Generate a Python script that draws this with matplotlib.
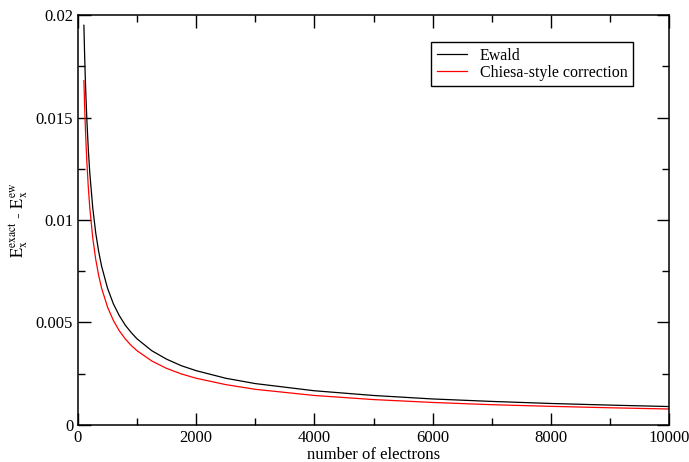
import numpy as np
import matplotlib.pyplot as plt
from matplotlib.ticker import MultipleLocator

plt.rcParams["font.family"] = ["Liberation Serif", "DejaVu Serif"]
plt.rcParams["mathtext.fontset"] = "stix"

# values
n_electrons = [100, 110, 120, 130, 150, 175, 200, 250, 300, 350, 400, 500,
               600, 700, 800, 900, 1000, 1250, 1500, 1750, 2000, 2500, 3000,
               4000, 5000, 6000, 7000, 8000, 9000, 10000]
ewald = [0.0195, 0.01829, 0.01726, 0.01637, 0.01488, 0.01342, 0.01228,
         0.01058, 0.00937, 0.00846, 0.00774, 0.00667, 0.00590, 0.00533,
         0.00487, 0.00451, 0.00420, 0.00362, 0.00321, 0.00289, 0.00265,
         0.00228, 0.00202, 0.00167, 0.00144, 0.00127, 0.00115, 0.00105,
         0.00097, 0.00090]
chiesa = [0.0168, 0.01577, 0.01488, 0.01411, 0.01282, 0.01157, 0.01058,
          0.00912, 0.00808, 0.00729, 0.00667, 0.00575, 0.00509, 0.00459,
          0.00420, 0.00388, 0.00362, 0.00312, 0.00276, 0.00249, 0.00228,
          0.00197, 0.00174, 0.00144, 0.00124, 0.00110, 0.00099, 0.00091,
          0.00084, 0.00078]

x_ticks = [0, 2000, 4000, 6000, 8000, 10000]
y_ticks = [0, 0.005, 0.01, 0.015, 0.02]
y_tick_labels = ["0", "0.005", "0.01", "0.015", "0.02"]

fig = plt.figure(figsize=(6.89, 4.62), dpi=100)
ax = fig.add_axes([0.1132, 0.0801, 0.971 - 0.1132, 0.9675 - 0.0801])

ax.plot(n_electrons, ewald, color="black", lw=0.9, label="Ewald")
ax.plot(n_electrons, chiesa, color="red", lw=0.9, label="Chiesa-style correction")

ax.set_xlim(0, 10000)
ax.set_ylim(0, 0.02)
ax.set_xticks(x_ticks)
ax.set_xticklabels([str(v) for v in x_ticks])
ax.set_yticks(y_ticks)
ax.set_yticklabels(y_tick_labels)
ax.xaxis.set_minor_locator(MultipleLocator(1000))
ax.yaxis.set_minor_locator(MultipleLocator(0.0025))
ax.tick_params(which="both", direction="in", top=True, right=True,
               labelsize=12, width=1.0)
ax.tick_params(which="major", length=9)
ax.tick_params(which="minor", length=5)
for s in ax.spines.values():
    s.set_linewidth(1.1)

ax.set_xlabel("number of electrons", fontsize=12, labelpad=1)
ax.set_ylabel(r"$\mathrm{E_x^{exact}}$ - $\mathrm{E_x^{ew}}$", fontsize=12, labelpad=4)

leg = ax.legend(loc="upper right", bbox_to_anchor=(0.953, 0.953), fontsize=11.5,
                fancybox=False, edgecolor="black", framealpha=1,
                handlelength=1.9, borderpad=0.35, labelspacing=0.05)
leg.get_frame().set_linewidth(1.0)

fig.savefig("out.png", dpi=100)
